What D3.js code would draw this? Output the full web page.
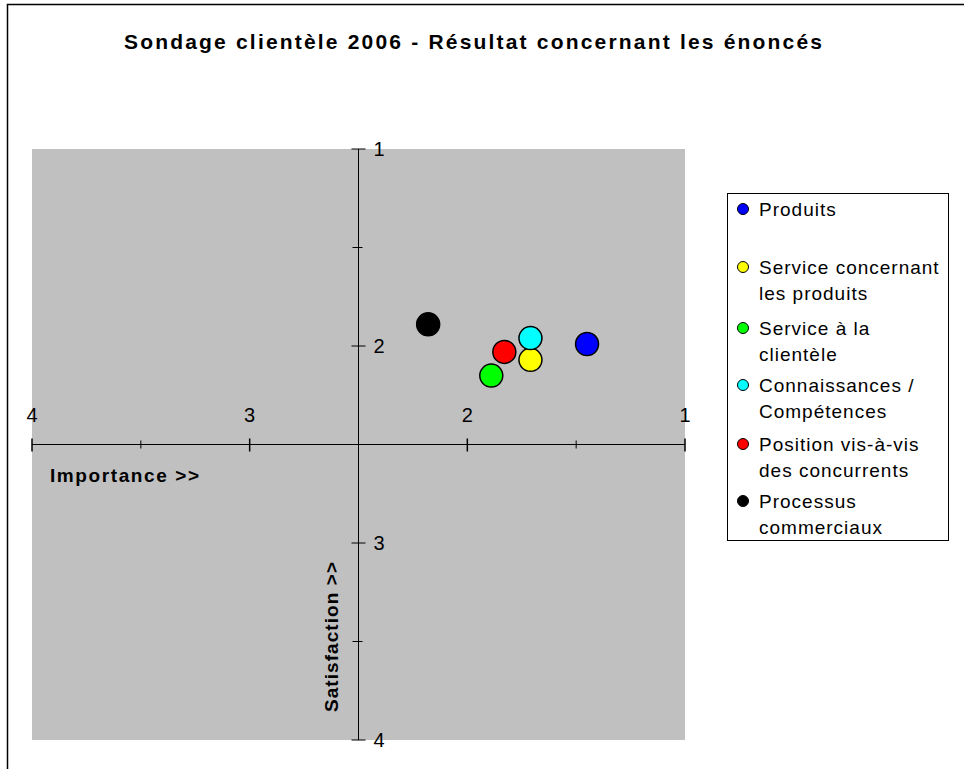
<!DOCTYPE html>
<html lang="fr">
<head>
<meta charset="UTF-8">
<title>Sondage clientèle 2006</title>
<script src="https://d3js.org/d3.v7.min.js"></script>
<style>
  body { margin: 0; background: #fff; }
  svg text { font-family: "Liberation Sans", Arial, sans-serif; }
</style>
</head>
<body>
<div id="chart"></div>
<script>
// series data
var categories = ["Produits", "Service concernant les produits", "Service à la clientèle",
                  "Connaissances / Compétences", "Position vis-à-vis des concurrents", "Processus commerciaux"];
var legendLines = [["Produits"], ["Service concernant", "les produits"], ["Service à la", "clientèle"],
                   ["Connaissances /", "Compétences"], ["Position vis-à-vis", "des concurrents"], ["Processus", "commerciaux"]];
var importance = [1.45, 1.71, 1.89, 1.71, 1.83, 2.18];
var satisfaction = [1.99, 2.07, 2.15, 1.96, 2.03, 1.89];
var colors = ["#0000ff", "#ffff00", "#00ff00", "#00ffff", "#ff0000", "#000000"];
var xTicks = [4, 3, 2, 1];
var yTicks = [1, 2, 3, 4];

var width = 964, height = 769;
var svg = d3.select("#chart").append("svg")
    .attr("width", width)
    .attr("height", height);

// outer frame
svg.append("rect")
    .attr("x", 7.5).attr("y", 4.5)
    .attr("width", 980).attr("height", 800)
    .attr("fill", "none").attr("stroke", "#000").attr("stroke-width", 1.5);

svg.append("text")
    .attr("x", 124).attr("y", 49)
    .attr("textLength", 698).attr("lengthAdjust", "spacing")
    .style("font-size", "21px").style("font-weight", "bold")
    .text("Sondage clientèle 2006 - Résultat concernant les énoncés");

var x = d3.scaleLinear().domain([4, 1]).range([32, 685]);
var y = d3.scaleLinear().domain([1, 4]).range([149, 740]);

// plot area
svg.append("rect")
    .attr("x", x(4)).attr("y", y(1))
    .attr("width", x(1) - x(4)).attr("height", y(4) - y(1))
    .attr("fill", "#c0c0c0");

var axisY0 = y(2.5), axisX0 = x(2.5);

// horizontal axis
var gx = svg.append("g").attr("transform", "translate(0," + axisY0 + ")");
gx.append("line").attr("x1", x(4)).attr("x2", x(1)).attr("stroke", "#000");
gx.selectAll(".minor").data(d3.range(4, 0.99, -0.5)).enter().append("line")
    .attr("x1", function(d) { return x(d); }).attr("x2", function(d) { return x(d); })
    .attr("y1", function(d) { return d % 1 === 0 ? -6 : -4; })
    .attr("y2", function(d) { return d % 1 === 0 ? 7 : 4; })
    .attr("stroke", "#000").attr("stroke-width", function(d) { return d % 1 === 0 ? 1.5 : 1; });
gx.selectAll(".lbl").data(xTicks).enter().append("text")
    .attr("x", function(d) { return x(d); }).attr("y", -23)
    .attr("text-anchor", "middle")
    .style("font-size", "20px")
    .text(function(d) { return d; });

// vertical axis
var gy = svg.append("g").attr("transform", "translate(" + axisX0 + ",0)");
gy.append("line").attr("y1", y(1)).attr("y2", y(4)).attr("stroke", "#000");
gy.selectAll(".minor").data(d3.range(1, 4.01, 0.5)).enter().append("line")
    .attr("y1", function(d) { return y(d); }).attr("y2", function(d) { return y(d); })
    .attr("x1", function(d) { return d % 1 === 0 ? -7 : -6; })
    .attr("x2", function(d) { return d % 1 === 0 ? 7 : 4; })
    .attr("stroke", "#000");
gy.selectAll(".lbl").data(yTicks).enter().append("text")
    .attr("x", 15).attr("y", function(d) { return y(d) + 7; })
    .style("font-size", "20px")
    .text(function(d) { return d; });

svg.append("text")
    .attr("x", 50).attr("y", 482)
    .attr("textLength", 149).attr("lengthAdjust", "spacing")
    .style("font-size", "19px").style("font-weight", "bold")
    .text("Importance >>");

svg.append("text")
    .attr("transform", "translate(338,712) rotate(-90)")
    .attr("textLength", 150).attr("lengthAdjust", "spacing")
    .style("font-size", "19px").style("font-weight", "bold")
    .text("Satisfaction >>");

// points
svg.selectAll(".pt").data(categories).enter().append("circle")
    .attr("cx", function(d, i) { return x(importance[i]); })
    .attr("cy", function(d, i) { return y(satisfaction[i]); })
    .attr("r", 11.5)
    .attr("fill", function(d, i) { return colors[i]; })
    .attr("stroke", "#000").attr("stroke-width", 1.5);

// legend
var legend = svg.append("g");
legend.append("rect")
    .attr("x", 727.5).attr("y", 193.5).attr("width", 221).attr("height", 347)
    .attr("fill", "#fff").attr("stroke", "#000");
var itemY = [209, 267, 328, 385, 444, 501];
legendLines.forEach(function(lines, i) {
    legend.append("circle")
        .attr("cx", 743).attr("cy", itemY[i])
        .attr("r", 5.5)
        .attr("fill", colors[i]).attr("stroke", "#000");
    lines.forEach(function(t, j) {
        legend.append("text")
            .attr("x", 759).attr("y", itemY[i] + 7 + j * 26)
            .style("font-size", "19px").style("letter-spacing", "1px")
            .text(t);
    });
});
</script>
</body>
</html>
